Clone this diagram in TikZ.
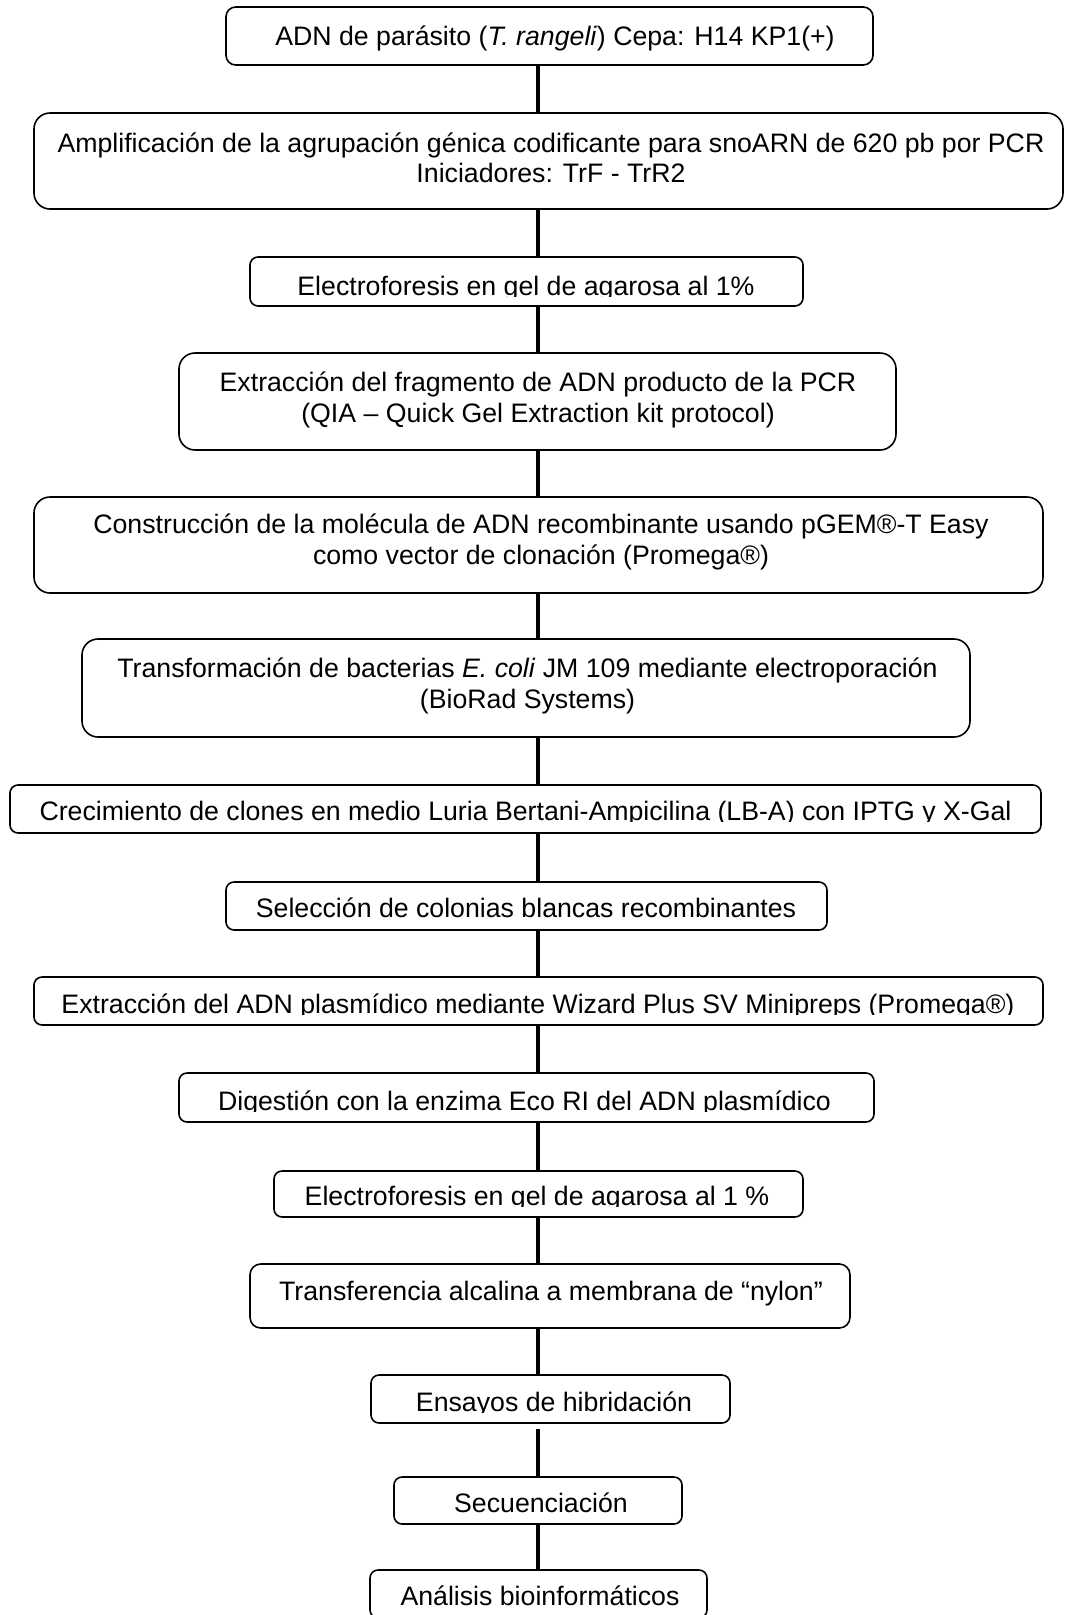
\documentclass[tikz,border=0pt]{standalone}
\usepackage{fontspec}
\setmainfont{Liberation Sans}
\begin{document}
\begin{tikzpicture}[x=1pt,y=-1pt,
  bx/.style={draw, line width=1.6pt, inner sep=0pt, outer sep=0pt},
  txt/.style={inner sep=0pt, outer sep=0pt, anchor=base, font=\fontsize{26.7pt}{30.7pt}\selectfont},
  conn/.style={line width=4.5pt}]
\useasboundingbox (0,0) rectangle (1065,1615);
\fill[white] (0,0) rectangle (1065,1615);
\clip (0,0) rectangle (1065,1615);
\coordinate (spine) at (538,0);
% boxes
\node[bx, minimum width=647pt, minimum height=58pt, rounded corners=9.7pt] (b1) at (549.5,36) {};
\node[bx, minimum width=1029pt, minimum height=96pt, rounded corners=16pt] (b2) at (548.5,161) {};
\node[bx, minimum width=553pt, minimum height=49pt, rounded corners=8pt] (b3) at (526.5,281.5) {};
\node[bx, minimum width=717pt, minimum height=97pt, rounded corners=16pt] (b4) at (537.5,401.5) {};
\node[bx, minimum width=1009pt, minimum height=96pt, rounded corners=16pt] (b5) at (538.5,545) {};
\node[bx, minimum width=888pt, minimum height=98pt, rounded corners=16pt] (b6) at (526,688) {};
\node[bx, minimum width=1031pt, minimum height=48pt, rounded corners=8pt] (b7) at (525.5,809) {};
\node[bx, minimum width=601pt, minimum height=48pt, rounded corners=8pt] (b8) at (526.5,906) {};
\node[bx, minimum width=1009pt, minimum height=48pt, rounded corners=8pt] (b9) at (538.5,1001) {};
\node[bx, minimum width=695pt, minimum height=49pt, rounded corners=8pt] (b10) at (526.5,1097.5) {};
\node[bx, minimum width=529pt, minimum height=46pt, rounded corners=8pt] (b11) at (538.5,1194) {};
\node[bx, minimum width=600pt, minimum height=64pt, rounded corners=10.7pt] (b12) at (550,1296) {};
\node[bx, minimum width=359pt, minimum height=48pt, rounded corners=8pt] (b13) at (550.5,1399) {};
\node[bx, minimum width=288pt, minimum height=47pt, rounded corners=8pt] (b14) at (538,1500.5) {};
\node[bx, minimum width=337pt, minimum height=48pt, rounded corners=8pt] (b15) at (538.5,1594) {};
% texts
\node[txt] (t1) at (555,45) {ADN de parásito (\textit{T. rangeli}) Cepa: H14 KP1(+)};
\node[txt] (t2a) at (551,152) {Amplificación de la agrupación génica codificante para snoARN de 620 pb por PCR};
\node[txt] (t2b) at (551,182) {Iniciadores: TrF - TrR2};
\begin{scope}
\clip (b3.north west) rectangle (b3.east |- 0,296.5);
\node[txt] (t3) at (526,295) {Electroforesis en gel de agarosa al 1\%};
\end{scope}
\node[txt] (t4a) at (538,391) {Extracción del fragmento de ADN producto de la PCR};
\node[txt] (t4b) at (538,422) {(QIA – Quick Gel Extraction kit protocol)};
\node[txt] (t5a) at (541,533) {Construcción de la molécula de ADN recombinante usando pGEM®-T Easy};
\node[txt] (t5b) at (541,564) {como vector de clonación (Promega®)};
\node[txt] (t6a) at (527.5,677) {Transformación de bacterias \textit{E. coli} JM 109 mediante electroporación};
\node[txt] (t6b) at (527.5,708) {(BioRad Systems)};
\begin{scope}
\clip (b7.north west) rectangle (b7.east |- 0,821.5);
\node[txt] (t7) at (525.5,820) {Crecimiento de clones en medio Luria Bertani-Ampicilina (LB-A) con IPTG y X-Gal};
\end{scope}
\node[txt] (t8) at (526,917) {Selección de colonias blancas recombinantes};
\begin{scope}
\clip (b9.north west) rectangle (b9.east |- 0,1014.5);
\node[txt] (t9) at (538,1013) {Extracción del ADN plasmídico mediante Wizard Plus SV Minipreps (Promega®)};
\end{scope}
\begin{scope}
\clip (b10.north west) rectangle (b10.east |- 0,1111.5);
\node[txt] (t10) at (524.5,1110) {Digestión con la enzima Eco RI del ADN plasmídico};
\end{scope}
\begin{scope}
\clip (b11.north west) rectangle (b11.east |- 0,1206.5);
\node[txt] (t11) at (537,1205) {Electroforesis en gel de agarosa al 1 \%};
\end{scope}
\node[txt] (t12) at (551,1300) {Transferencia alcalina a membrana de “nylon”};
\begin{scope}
\clip (b13.north west) rectangle (b13.east |- 0,1412);
\node[txt] (t13) at (554,1411) {Ensayos de hibridación};
\end{scope}
\node[txt] (t14) at (541,1512) {Secuenciación};
\node[txt] (t15) at (540,1605) {Análisis bioinformáticos};
% connectors
\draw[conn] (b1.south -| spine) -- (b2.north -| spine);
\draw[conn] (b2.south -| spine) -- (b3.north -| spine);
\draw[conn] (b3.south -| spine) -- (b4.north -| spine);
\draw[conn] (b4.south -| spine) -- (b5.north -| spine);
\draw[conn] (b5.south -| spine) -- (b6.north -| spine);
\draw[conn] (b6.south -| spine) -- (b7.north -| spine);
\draw[conn] (b7.south -| spine) -- (b8.north -| spine);
\draw[conn] (b8.south -| spine) -- (b9.north -| spine);
\draw[conn] (b9.south -| spine) -- (b10.north -| spine);
\draw[conn] (b10.south -| spine) -- (b11.north -| spine);
\draw[conn] (b11.south -| spine) -- (b12.north -| spine);
\draw[conn] (b12.south -| spine) -- (b13.north -| spine);
\draw[conn, shorten <=6pt] (b13.south -| spine) -- (b14.north -| spine);
\draw[conn] (b14.south -| spine) -- (b15.north -| spine);
\end{tikzpicture}
\end{document}
